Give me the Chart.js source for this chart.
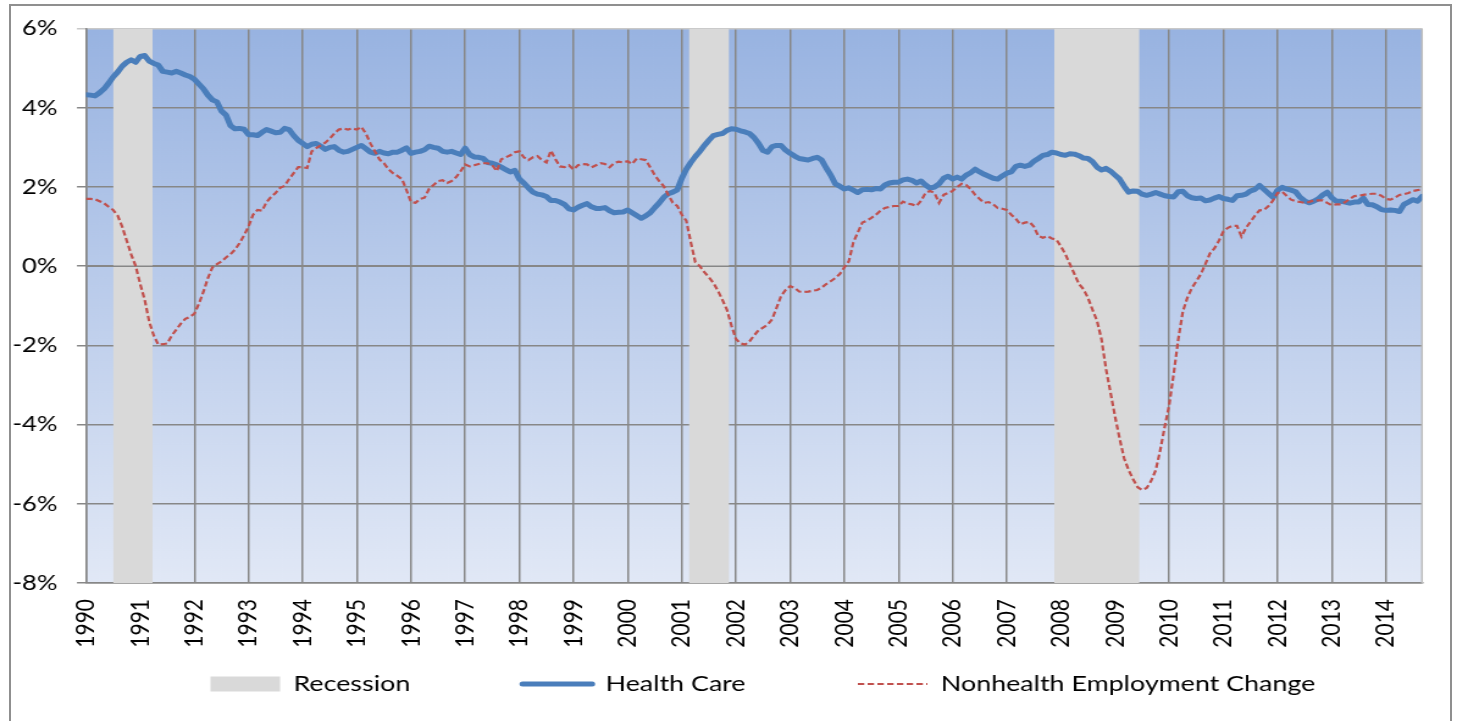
<!DOCTYPE html>
<html>
<head>
<meta charset="utf-8">
<script src="https://cdn.jsdelivr.net/npm/chart.js@4.4.1/dist/chart.umd.min.js"></script>
<style>
  html, body { margin: 0; padding: 0; background: #fff; overflow: hidden; }
  #wrap { position: absolute; left: 0; top: 0; width: 1194px; height: 721px;
          transform: scaleX(1.22027); transform-origin: 0 0; }
  #frame { position: absolute; left: 9px; top: 4px; width: 1443px; height: 760px;
           box-sizing: border-box; border: 2px solid #8f8f8f; pointer-events: none; }
</style>
</head>
<body>
<div id="wrap"><canvas id="myChart" width="1194" height="721"></canvas></div>
<div id="frame"></div>
<script>
// first month of the series and tick labels
var startYear = 1990;
var yearTicks = [1990, 1991, 1992, 1993, 1994, 1995, 1996, 1997, 1998, 1999, 2000, 2001,
  2002, 2003, 2004, 2005, 2006, 2007, 2008, 2009, 2010, 2011, 2012, 2013, 2014];

// recession periods (decimal years)
var recessionStart = [1990.50, 2001.13, 2007.875];
var recessionEnd = [1991.23, 2001.875, 2009.45];

// health care employment change, % y/y, monthly Jan 1990 - Sep 2014
var healthCare = [
  4.33, 4.32, 4.30, 4.38, 4.48, 4.62, 4.78, 4.90, 5.05, 5.15, 5.21, 5.15,
  5.30, 5.32, 5.18, 5.12, 5.08, 4.92, 4.90, 4.88, 4.92, 4.88, 4.83, 4.79,
  4.72, 4.60, 4.48, 4.32, 4.20, 4.15, 3.92, 3.82, 3.55, 3.47, 3.48, 3.46,
  3.32, 3.32, 3.30, 3.38, 3.45, 3.41, 3.37, 3.38, 3.48, 3.45, 3.30, 3.18,
  3.10, 3.02, 3.08, 3.10, 3.03, 2.95, 3.00, 3.02, 2.93, 2.88, 2.90, 2.95,
  3.00, 3.05, 2.97, 2.88, 2.85, 2.90, 2.86, 2.84, 2.88, 2.88, 2.93, 2.99,
  2.85, 2.88, 2.90, 2.94, 3.03, 3.00, 2.98, 2.90, 2.88, 2.90, 2.86, 2.82,
  2.98, 2.82, 2.76, 2.75, 2.72, 2.62, 2.60, 2.56, 2.50, 2.44, 2.38, 2.42,
  2.20, 2.10, 1.98, 1.87, 1.82, 1.80, 1.76, 1.66, 1.66, 1.62, 1.56, 1.45,
  1.42, 1.49, 1.54, 1.58, 1.50, 1.46, 1.46, 1.48, 1.40, 1.35, 1.36, 1.37,
  1.42, 1.35, 1.28, 1.21, 1.27, 1.35, 1.48, 1.60, 1.74, 1.83, 1.87, 1.93,
  2.22, 2.45, 2.62, 2.77, 2.90, 3.05, 3.18, 3.30, 3.33, 3.35, 3.43, 3.47,
  3.46, 3.42, 3.39, 3.35, 3.25, 3.10, 2.92, 2.88, 3.02, 3.05, 3.05, 2.93,
  2.85, 2.78, 2.72, 2.70, 2.68, 2.72, 2.75, 2.68, 2.48, 2.30, 2.08, 2.02,
  1.95, 1.98, 1.92, 1.86, 1.93, 1.94, 1.93, 1.96, 1.95, 2.05, 2.10, 2.12,
  2.12, 2.18, 2.20, 2.17, 2.10, 2.15, 2.05, 1.97, 2.00, 2.08, 2.22, 2.27,
  2.20, 2.25, 2.20, 2.30, 2.36, 2.45, 2.38, 2.32, 2.27, 2.22, 2.20, 2.28,
  2.35, 2.38, 2.52, 2.55, 2.52, 2.55, 2.65, 2.72, 2.80, 2.82, 2.88, 2.86,
  2.82, 2.80, 2.84, 2.83, 2.79, 2.73, 2.72, 2.64, 2.50, 2.43, 2.47, 2.40,
  2.30, 2.20, 2.02, 1.87, 1.90, 1.89, 1.82, 1.79, 1.82, 1.86, 1.82, 1.78,
  1.76, 1.75, 1.88, 1.89, 1.78, 1.73, 1.71, 1.72, 1.65, 1.67, 1.72, 1.76,
  1.71, 1.69, 1.66, 1.78, 1.79, 1.82, 1.90, 1.94, 2.04, 1.94, 1.84, 1.74,
  1.92, 1.99, 1.95, 1.92, 1.88, 1.74, 1.65, 1.60, 1.64, 1.70, 1.80, 1.87,
  1.73, 1.64, 1.64, 1.62, 1.59, 1.62, 1.62, 1.72, 1.56, 1.55, 1.50, 1.43,
  1.41, 1.42, 1.41, 1.38, 1.56, 1.62, 1.68, 1.64, 1.76
];

// nonhealth employment change, % y/y, monthly Jan 1990 - Sep 2014
var nonHealth = [
  1.70, 1.70, 1.69, 1.64, 1.59, 1.50, 1.42, 1.28, 1.00, 0.65, 0.30, 0.00,
  -0.45, -0.85, -1.40, -1.75, -1.98, -1.97, -1.95, -1.75, -1.60, -1.45, -1.33, -1.28,
  -1.20, -0.95, -0.65, -0.30, -0.03, 0.05, 0.12, 0.22, 0.30, 0.42, 0.58, 0.78,
  1.00, 1.30, 1.42, 1.40, 1.62, 1.75, 1.85, 1.98, 2.03, 2.20, 2.35, 2.50,
  2.50, 2.48, 2.90, 2.98, 3.05, 3.12, 3.22, 3.35, 3.45, 3.48, 3.45, 3.48,
  3.45, 3.52, 3.35, 3.10, 2.90, 2.70, 2.60, 2.45, 2.35, 2.28, 2.20, 1.92,
  1.62, 1.60, 1.70, 1.73, 1.95, 2.05, 2.15, 2.17, 2.10, 2.15, 2.25, 2.40,
  2.57, 2.52, 2.55, 2.58, 2.60, 2.60, 2.55, 2.40, 2.70, 2.75, 2.80, 2.88,
  2.90, 2.75, 2.68, 2.75, 2.78, 2.68, 2.62, 2.92, 2.70, 2.52, 2.50, 2.55,
  2.44, 2.55, 2.58, 2.57, 2.50, 2.55, 2.60, 2.58, 2.50, 2.60, 2.64, 2.62,
  2.65, 2.58, 2.72, 2.70, 2.68, 2.50, 2.30, 2.15, 2.02, 1.80, 1.60, 1.52,
  1.30, 1.15, 0.60, 0.10, 0.00, -0.15, -0.28, -0.42, -0.62, -0.85, -1.10, -1.50,
  -1.84, -1.95, -1.98, -1.90, -1.75, -1.62, -1.55, -1.48, -1.34, -1.05, -0.75, -0.60,
  -0.50, -0.55, -0.64, -0.65, -0.64, -0.62, -0.60, -0.54, -0.45, -0.38, -0.30, -0.20,
  -0.03, 0.12, 0.60, 0.85, 1.10, 1.15, 1.22, 1.30, 1.40, 1.47, 1.50, 1.52,
  1.52, 1.63, 1.58, 1.56, 1.52, 1.65, 1.85, 1.90, 1.85, 1.60, 1.80, 1.85,
  1.90, 2.00, 2.08, 2.05, 1.95, 1.80, 1.70, 1.60, 1.62, 1.56, 1.47, 1.45,
  1.42, 1.30, 1.20, 1.06, 1.10, 1.12, 1.00, 0.76, 0.72, 0.76, 0.70, 0.67,
  0.50, 0.30, 0.05, -0.20, -0.45, -0.58, -0.80, -1.10, -1.38, -1.85, -2.60, -3.20,
  -3.80, -4.35, -4.85, -5.15, -5.38, -5.58, -5.65, -5.60, -5.42, -5.15, -4.65, -4.05,
  -3.50, -2.70, -1.85, -1.15, -0.80, -0.55, -0.38, -0.20, 0.05, 0.32, 0.45, 0.64,
  0.88, 0.97, 1.02, 1.02, 0.75, 0.97, 1.12, 1.28, 1.41, 1.42, 1.52, 1.66,
  1.85, 1.88, 1.78, 1.68, 1.64, 1.62, 1.60, 1.62, 1.66, 1.66, 1.66, 1.60,
  1.54, 1.56, 1.56, 1.62, 1.70, 1.77, 1.78, 1.80, 1.82, 1.83, 1.83, 1.78,
  1.70, 1.68, 1.73, 1.80, 1.82, 1.85, 1.90, 1.92, 1.94
];

var yMin = -8, yMax = 6;

// decimal-year x position of each month
var months = healthCare.map(function (v, i) { return startYear + i / 12; });
function toPoints(vals) {
  return vals.map(function (v, i) { return { x: months[i], y: v }; });
}

// recession bands as filled segments separated by gaps
var recessionPoints = [];
recessionStart.forEach(function (s, i) {
  recessionPoints.push({ x: s, y: yMax }, { x: recessionEnd[i], y: yMax }, { x: recessionEnd[i], y: null });
});

var gridGrey = '#878787';
var LEGEND_H = 68, LEGEND_DY = 72, LEGEND_DX = 80.5;

// plot area gradient + right edge
var plotBackground = {
  id: 'plotBackground',
  beforeDraw: function (chart) {
    var a = chart.chartArea, c = chart.ctx;
    var g = c.createLinearGradient(0, a.top, 0, a.bottom);
    g.addColorStop(0, '#98b3e1');
    g.addColorStop(1, '#e1e8f6');
    c.save();
    c.fillStyle = g;
    c.fillRect(a.left, a.top, a.right - a.left, a.bottom - a.top);
    c.restore();
  },
  beforeDatasetsDraw: function (chart) {
    var a = chart.chartArea, c = chart.ctx;
    c.save();
    c.strokeStyle = '#bdbdbd';
    c.lineWidth = 1.5;
    c.beginPath();
    c.moveTo(a.right, a.top);
    c.lineTo(a.right, a.bottom);
    c.stroke();
    c.restore();
  },
  // the horizontal axis crosses at 0% and sits over the recession bars
  afterDatasetDraw: function (chart, args) {
    if (args.index !== 0) return;
    var a = chart.chartArea, c = chart.ctx;
    var y0 = chart.scales.y.getPixelForValue(0);
    c.save();
    c.strokeStyle = gridGrey;
    c.lineWidth = 1.5;
    c.beginPath();
    c.moveTo(a.left, y0);
    c.lineTo(a.right, y0);
    c.stroke();
    c.restore();
  }
};

// excel-like legend placement
var legendPlace = {
  id: 'legendPlace',
  afterInit: function (chart) {
    var lg = chart.legend;
    if (!lg) return;
    var fit = lg.fit;
    lg.fit = function () { fit.call(this); this.height = LEGEND_H; };
    var draw = lg.draw;
    lg.draw = function () {
      var t = this.top, l = this.left, r = this.right;
      this.top = t - LEGEND_DY; this.left = l + LEGEND_DX; this.right = r + LEGEND_DX;
      draw.call(this);
      this.top = t; this.left = l; this.right = r;
    };
  }
};

var ctx = document.getElementById('myChart').getContext('2d');

var data = {
  datasets: [{
    label: 'Recession',
    data: recessionPoints,
    backgroundColor: '#d9d9d9',
    borderColor: 'rgba(0,0,0,0)',
    borderWidth: 0,
    fill: 'start',
    spanGaps: false,
    pointRadius: 0,
    pointStyle: 'rect',
    order: 3
  }, {
    label: 'Health Care',
    data: toPoints(healthCare),
    borderColor: '#4a7ebb',
    backgroundColor: '#4a7ebb',
    borderWidth: 5,
    borderCapStyle: 'round',
    borderJoinStyle: 'round',
    pointRadius: 0,
    pointStyle: 'line',
    tension: 0,
    order: 2
  }, {
    label: 'Nonhealth Employment Change',
    data: toPoints(nonHealth),
    borderColor: '#c0504d',
    backgroundColor: '#c0504d',
    borderWidth: 2.2,
    borderDash: [5.3, 2.7],
    pointRadius: 0,
    pointStyle: 'line',
    tension: 0,
    order: 1
  }]
};

var options = {
  responsive: false,
  animation: false,
  layout: { padding: { top: 27, right: 28.7, bottom: 0, left: 0 } },
  plugins: {
    tooltip: { enabled: false },
    legend: {
      position: 'bottom',
      align: 'start',
      labels: {
        usePointStyle: true,
        pointStyleWidth: 57,
        boxHeight: 15,
        padding: 92,
        color: '#000',
        font: { family: 'Lato', size: 22 },
        sort: function (a, b) { return a.datasetIndex - b.datasetIndex; },
        // point-style legend items don't carry the line dash, copy it over
        generateLabels: function (chart) {
          var items = Chart.defaults.plugins.legend.labels.generateLabels(chart);
          items.forEach(function (it) {
            var ds = chart.data.datasets[it.datasetIndex];
            if (ds.borderDash) it.lineDash = ds.borderDash;
            if (ds.borderCapStyle) it.lineCap = ds.borderCapStyle;
          });
          return items;
        }
      }
    }
  },
  scales: {
    x: {
      type: 'linear',
      min: startYear,
      max: months[months.length - 1],
      afterFit: function (scale) { scale.height = 70; },
      afterBuildTicks: function (scale) {
        scale.ticks = yearTicks.map(function (v) { return { value: v }; });
      },
      ticks: {
        autoSkip: false,
        minRotation: 90,
        maxRotation: 90,
        padding: 16,
        color: '#000',
        font: { family: 'Lato', size: 21 },
        callback: function (v) { return String(v); }
      },
      grid: { color: gridGrey, lineWidth: 1.5, drawTicks: false },
      border: { color: gridGrey, width: 1.5 }
    },
    y: {
      min: yMin,
      max: yMax,
      afterFit: function (scale) { scale.width = 70.5; },
      ticks: {
        stepSize: 2,
        padding: 16,
        color: '#000',
        font: { family: 'Lato', size: 21 },
        callback: function (v) { return v + '%'; }
      },
      grid: {
        color: function (c) { return c.tick && c.tick.value === yMax ? '#c8c8c8' : gridGrey; },
        lineWidth: 1.5,
        tickLength: 7.4
      },
      border: { color: gridGrey, width: 1.5 }
    }
  }
};

var myLineChart = new Chart(ctx, {
  type: 'line',
  data: data,
  options: options,
  plugins: [plotBackground, legendPlace]
});
</script>
</body>
</html>
